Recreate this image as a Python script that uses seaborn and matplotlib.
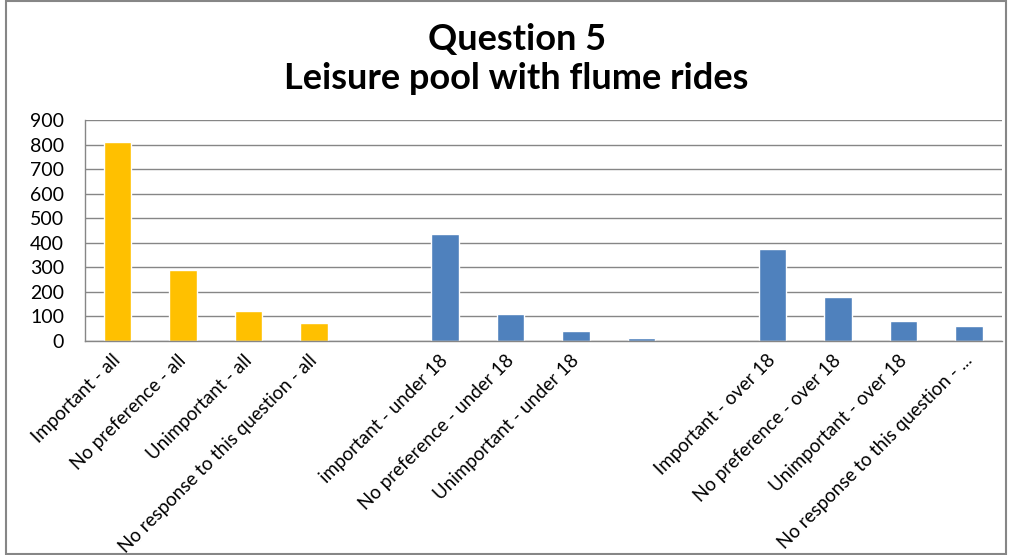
import numpy as np
import pandas as pd
import matplotlib.pyplot as plt
import seaborn as sns

# Survey answers, Question 5 - leisure pool with flume rides
keys = ['imp_all', 'nop_all', 'unimp_all', 'nores_all', 'gap1',
        'imp_u18', 'nop_u18', 'unimp_u18', 'nores_u18', 'gap2',
        'imp_o18', 'nop_o18', 'unimp_o18', 'nores_o18']
labels = ['Important - all', 'No preference - all', 'Unimportant - all',
          'No response to this question - all', '',
          'important - under 18', 'No preference - under 18', 'Unimportant - under 18', '', '',
          'Important - over 18', 'No preference - over 18', 'Unimportant - over 18',
          'No response to this question - ...']
values = [812, 289, 122, 73, np.nan,
          436, 110, 41, 12, np.nan,
          375, 179, 81, 61]
groups = ['all', 'all', 'all', 'all', 'all',
          'split', 'split', 'split', 'split', 'split',
          'split', 'split', 'split', 'split']

df = pd.DataFrame({'key': keys, 'value': values, 'group': groups})

sns.set_style('white')
plt.rcParams['font.family'] = ['Lato', 'DejaVu Sans']
plt.rcParams['text.color'] = 'black'
plt.rcParams['xtick.color'] = 'black'
plt.rcParams['ytick.color'] = 'black'

fig = plt.figure(figsize=(10.09, 5.55), dpi=100)
ax = fig.add_axes([0.0842, 0.3856, 0.9088, 0.3982])

sns.barplot(data=df, x='key', y='value', hue='group', order=keys,
            palette={'all': '#FFC000', 'split': '#4F81BD'},
            width=0.42, dodge=False, legend=False, ax=ax, saturation=1)

ax.set_ylim(0, 900)
ax.set_yticks(range(0, 901, 100))
ax.tick_params(axis='y', labelsize=14, length=0, pad=15)
ax.yaxis.grid(True, color='#868686', linewidth=1)
ax.set_axisbelow(True)

# Excel style: tick marks between categories, labels at centres
n = len(keys)
ax.set_xlim(-0.5, n - 0.5)
ax.set_xticks(np.arange(-0.5, n, 1.0))
ax.set_xticklabels([])
ax.set_xticks(np.arange(n), minor=True)
ax.set_xticklabels(labels, minor=True, rotation=45, ha='right', va='center',
                   rotation_mode='anchor', fontsize=13.5)
ax.tick_params(axis='x', which='major', length=6, color='#868686', direction='out')
ax.tick_params(axis='x', which='minor', length=0, pad=12)
ax.set_xlabel('')
ax.set_ylabel('')

for side in ['top', 'right']:
    ax.spines[side].set_visible(False)
for side in ['left', 'bottom']:
    ax.spines[side].set_color('#868686')
    ax.spines[side].set_linewidth(1)

fig.text(0.512, 0.928, 'Question 5', ha='center', va='center',
         fontsize=26, fontweight='bold')
fig.text(0.512, 0.858, 'Leisure pool with flume rides', ha='center', va='center',
         fontsize=26, fontweight='bold')

# chart border
fig.add_artist(plt.Rectangle((0.006, 0.002), 0.991, 0.996, transform=fig.transFigure,
                             fill=False, edgecolor='#868686', linewidth=1.5))

fig.savefig('out.png', dpi=100)
